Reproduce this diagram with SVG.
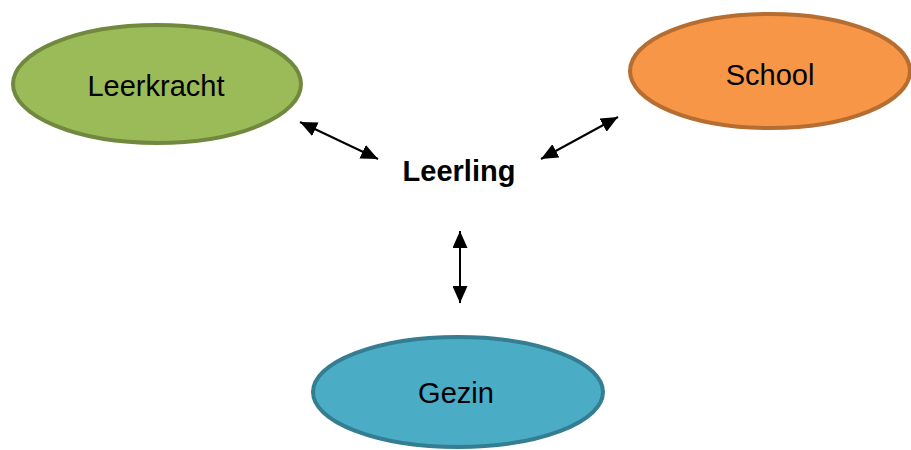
<svg xmlns="http://www.w3.org/2000/svg" width="911" height="450" viewBox="0 0 911 450">
<style>
.lbl{font-family:"Liberation Sans",Arial,sans-serif;font-size:29px;fill:#000;text-anchor:middle}
.bold{font-weight:bold}
.conn{stroke:#000;stroke-width:2;fill:none;marker-start:url(#ah);marker-end:url(#ah)}
</style>
<defs>
<marker id="ah" markerUnits="userSpaceOnUse" markerWidth="17" markerHeight="15" refX="17" refY="7.5" orient="auto-start-reverse">
<path d="M0,0 L17,7.5 L0,15 z" fill="#000"/>
</marker>
</defs>
<rect width="911" height="450" fill="#fff"/>
<g id="leerkracht">
<ellipse cx="157" cy="84" rx="144" ry="59" fill="#9BBB59" stroke="#71893F" stroke-width="4"/>
<text class="lbl" x="156" y="96">Leerkracht</text>
</g>
<g id="school">
<ellipse cx="770" cy="71" rx="140" ry="57" fill="#F79646" stroke="#B66D31" stroke-width="4"/>
<text class="lbl" x="770" y="85">School</text>
</g>
<g id="gezin">
<ellipse cx="458" cy="392" rx="145" ry="55" fill="#4BACC6" stroke="#357D91" stroke-width="4"/>
<text class="lbl" x="456" y="403">Gezin</text>
</g>
<g id="leerling">
<text class="lbl bold" x="459" y="181">Leerling</text>
</g>
<g id="connectors">
<line class="conn" x1="300" y1="122" x2="378" y2="159"/>
<line class="conn" x1="618" y1="117" x2="541" y2="159"/>
<line class="conn" x1="460" y1="231" x2="460" y2="303"/>
</g>
</svg>
